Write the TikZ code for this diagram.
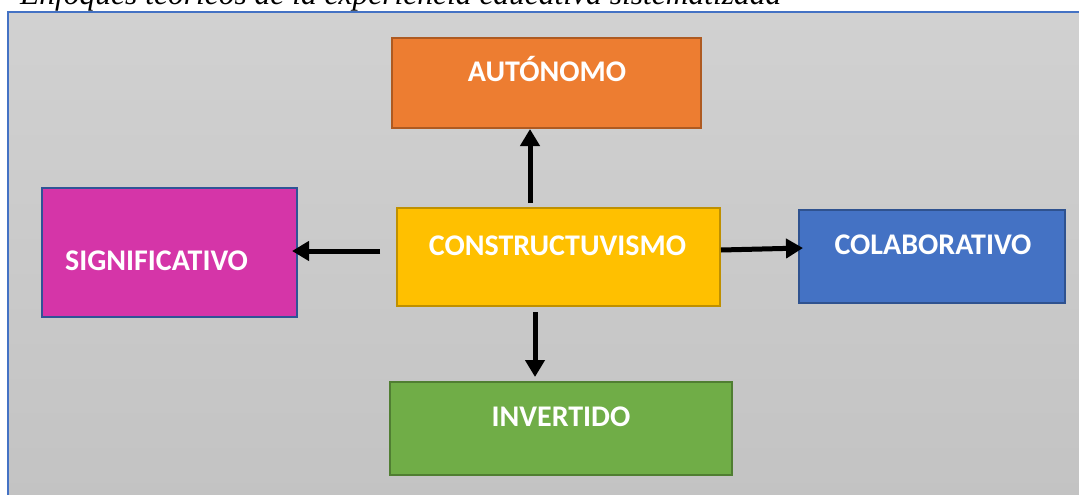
\documentclass[tikz,border=0pt]{standalone}
\usepackage{fontspec}
\setmainfont{Liberation Serif}
\newfontfamily\boxfont{Carlito}
\usetikzlibrary{arrows.meta,calc}
\definecolor{panelborder}{HTML}{4472C4}
\definecolor{paneltop}{HTML}{D1D1D1}
\definecolor{panelbot}{HTML}{C3C3C3}
\definecolor{orfill}{HTML}{ED7D31}
\definecolor{ordraw}{HTML}{AE5A21}
\definecolor{mgfill}{HTML}{D535A8}
\definecolor{mgdraw}{HTML}{2F5496}
\definecolor{yefill}{HTML}{FFC000}
\definecolor{yedraw}{HTML}{BF9000}
\definecolor{blfill}{HTML}{4472C4}
\definecolor{bldraw}{HTML}{2F528F}
\definecolor{grfill}{HTML}{70AD47}
\definecolor{grdraw}{HTML}{507E32}
\tikzset{
  x=1pt,y=1pt,
  boxnode/.style={draw, line width=2pt, rectangle, inner sep=0pt},
  lbl/.style={text=white, font=\boxfont\bfseries\fontsize{30}{34}\selectfont, inner sep=0pt, text height=19pt, text depth=0pt},
  arr/.style={line width=5pt, -{Triangle[width=19pt,length=17pt]}},
}
\begin{document}
\begin{tikzpicture}
\useasboundingbox (0,0) rectangle (1079,-495);
\clip (0,0) rectangle (1079,-495);
% title (cut off at top, as in the reference)
\node[anchor=base west, inner sep=0pt, font=\itshape\fontsize{31.5}{36}\selectfont] (title) at (20,-5) {Enfoques teóricos de la experiencia educativa sistematizada};
% panel
\shade[top color=paneltop, bottom color=panelbot] (8,-12.5) rectangle (1090,-500);
\draw[panelborder, line width=2pt] (8,-500) -- (8,-12.5) -- (1090,-12.5);
% boxes
\node[boxnode, fill=orfill, draw=ordraw, minimum width=309, minimum height=90,
  label={[lbl, xshift=0.5, yshift=11]center:AUTÓNOMO}] (aut) at (546.5,-83) {};
\node[boxnode, fill=mgfill, draw=mgdraw, minimum width=255, minimum height=129,
  label={[lbl, xshift=-13, yshift=-8.5]center:SIGNIFICATIVO}] (sig) at (169.5,-252.5) {};
\node[boxnode, fill=yefill, draw=yedraw, minimum width=323, minimum height=98,
  label={[lbl, xshift=-1, yshift=11]center:CONSTRUCTUVISMO}] (con) at (558.5,-257) {};
\node[boxnode, fill=blfill, draw=bldraw, minimum width=266, minimum height=93,
  label={[lbl, xshift=1, yshift=11.5]center:COLABORATIVO}] (col) at (932,-256.5) {};
\node[boxnode, fill=grfill, draw=grdraw, minimum width=342, minimum height=93,
  label={[lbl, yshift=11.5]center:INVERTIDO}] (inv) at (561,-428.5) {};
% arrows
\draw[arr] ([shift={(-28.5,4)}]con.north) -- ([xshift=-16.5]aut.south);
\draw[arr] ([shift={(-16,6)}]con.west) -- ([shift={(-6,1.5)}]sig.east);
\draw[arr] ([shift={(0,7)}]con.east) -- ([shift={(5,8.5)}]col.west);
\draw[arr] ([shift={(-23.5,-5)}]con.south) -- ([shift={(-26,4)}]inv.north);
\end{tikzpicture}
\end{document}
